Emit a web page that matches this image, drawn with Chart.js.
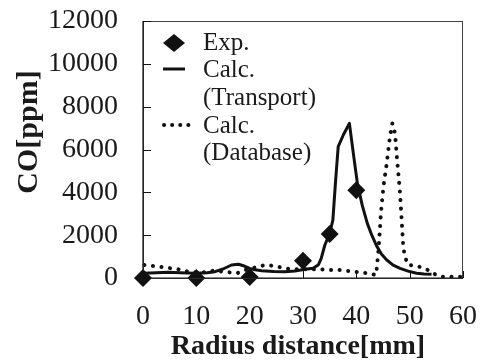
<!DOCTYPE html>
<html><head><meta charset="utf-8">
<script src="https://cdn.jsdelivr.net/npm/chart.js@4/dist/chart.umd.min.js"></script>
<style>html,body{margin:0;padding:0;background:#fff}#wrap{width:483px;height:363px}</style>
</head><body><div id="wrap"><canvas id="c" width="483" height="363"></canvas></div>
<script>
const expX = [0, 10, 20, 30, 35, 40];
const expY = [0, 0, 50, 800, 2050, 4100];
const transX = [0, 2.5, 4.75, 7, 9.75, 12, 13.5, 15, 16.6, 17.9, 19, 20, 21, 22.25, 24.5, 26.6, 28.5, 30.4, 31.9, 32.9, 33.4, 34.1, 35, 35.6, 36.1, 36.6, 37.6, 38.7, 39.5, 40.2, 41.1, 42.06, 42.9, 43.8, 44.7, 45.7, 46.9, 48.2, 49.7, 51.3, 52.7, 54.1];
const transY = [220, 250, 265, 250, 220, 250, 295, 420, 607, 640, 560, 450, 380, 340, 300, 295, 330, 405, 450, 620, 900, 1540, 2080, 2700, 4500, 6130, 6700, 7220, 5700, 4420, 3400, 2550, 2000, 1500, 1120, 840, 600, 450, 320, 220, 190, 170];
const dbX = [0.25, 2, 4, 6.6, 8.5, 11, 13.2, 15.2, 17.6, 19.1, 22.9, 24.75, 26.6, 28.5, 31.3, 33.2, 35.06, 36.9, 38.5, 40.4, 42, 43.7, 43.9, 44.2, 44.6, 45.1, 45.7, 46.3, 46.75, 47.25, 47.6, 48.2, 48.8, 49.1, 49.7, 51.3, 52.9, 54.4, 55.7, 58.4, 59.5];
const dbY = [607, 560, 500, 405, 295, 250, 340, 295, 220, 374, 607, 560, 450, 405, 405, 405, 374, 374, 327, 265, 220, 140, 607, 1450, 3000, 4300, 5350, 6600, 7220, 6770, 5660, 3950, 1460, 1000, 607, 560, 450, 220, 60, 60, 60];
const xTicks = [0, 10, 20, 30, 40, 50, 60];
const yTicks = [0, 2000, 4000, 6000, 8000, 10000, 12000];
const xTitle = 'Radius distance[mm]';
const yTitle = 'CO[ppm]';
const legendItems = [['Exp.'], ['Calc.', '(Transport)'], ['Calc.', '(Database)']];

const pts = (xs, ys) => xs.map((x, i) => ({x, y: ys[i]}));
const serif = '"Liberation Serif", "Times New Roman", serif';

const deco = {
  id: 'deco',
  afterDraw(chart) {
    const {ctx, chartArea: a, scales: {x, y}} = chart;
    ctx.save();
    ctx.strokeStyle = '#444';
    ctx.lineWidth = 1;
    ctx.strokeRect(a.left + 0.5, a.top + 0.5, a.right - a.left - 1, a.bottom - a.top);
    ctx.strokeStyle = '#111';
    ctx.lineWidth = 1.2;
    ctx.beginPath();
    ctx.moveTo(a.left, a.top); ctx.lineTo(a.left, a.bottom); ctx.lineTo(a.right, a.bottom);
    ctx.stroke();
    ctx.lineWidth = 1;
    yTicks.forEach(v => { const py = Math.round(y.getPixelForValue(v)) + 0.5; ctx.beginPath(); ctx.moveTo(a.left, py); ctx.lineTo(a.left + 8, py); ctx.stroke(); });
    xTicks.forEach(v => { const px = Math.round(x.getPixelForValue(v)) + 0.5; ctx.beginPath(); ctx.moveTo(px, a.bottom); ctx.lineTo(px, a.bottom - 7); ctx.stroke(); });
    // titles
    ctx.fillStyle = '#1a1a1a';
    ctx.font = 'bold 28px ' + serif;
    ctx.textAlign = 'center'; ctx.textBaseline = 'middle';
    ctx.fillText(xTitle, 298, 347);
    ctx.font = 'bold 30px ' + serif;
    ctx.translate(29, 132); ctx.rotate(-Math.PI / 2);
    ctx.fillText(yTitle, 0, 0);
    ctx.setTransform(1, 0, 0, 1, 0, 0);
    // legend
    ctx.font = '25px ' + serif;
    ctx.textAlign = 'left';
    const tx = 203;
    ctx.fillStyle = '#111';
    ctx.beginPath(); ctx.moveTo(174, 34); ctx.lineTo(185, 43); ctx.lineTo(174, 52); ctx.lineTo(163, 43); ctx.closePath(); ctx.fill();
    ctx.fillStyle = '#1a1a1a';
    ctx.fillText(legendItems[0][0], tx, 43);
    ctx.strokeStyle = '#111'; ctx.lineWidth = 3;
    ctx.beginPath(); ctx.moveTo(163, 69); ctx.lineTo(185, 69); ctx.stroke();
    ctx.fillText(legendItems[1][0], tx, 70);
    ctx.fillText(legendItems[1][1], tx, 98);
    ctx.lineCap = 'round'; ctx.lineWidth = 4; ctx.setLineDash([0.1, 8]);
    ctx.beginPath(); ctx.moveTo(164, 125); ctx.lineTo(190, 125); ctx.stroke();
    ctx.setLineDash([]);
    ctx.fillText(legendItems[2][0], tx, 126);
    ctx.fillText(legendItems[2][1], tx, 153);
    ctx.restore();
  }
};

new Chart(document.getElementById('c'), {
  type: 'scatter',
  data: {
    datasets: [
      {label: 'Calc. (Database)', data: pts(dbX, dbY), showLine: true, borderColor: '#111', borderWidth: 4, borderDash: [0.1, 8.5], borderCapStyle: 'round', pointRadius: 0, tension: 0, clip: false},
      {label: 'Calc. (Transport)', data: pts(transX, transY), showLine: true, borderColor: '#111', borderWidth: 3, borderJoinStyle: 'round', pointRadius: 0, tension: 0, clip: false},
      {label: 'Exp.', data: pts(expX, expY), showLine: false, pointStyle: 'rectRot', pointRadius: 9, backgroundColor: '#111', borderColor: '#111', borderWidth: 0, clip: false}
    ]
  },
  options: {
    responsive: false, animation: false, devicePixelRatio: 1,
    layout: {autoPadding: false, padding: {top: 21, right: 20, left: 0, bottom: 0}},
    plugins: {legend: {display: false}, tooltip: {enabled: false}},
    scales: {
      x: {type: 'linear', min: 0, max: 60,
        afterFit: s => { s.height = 85; s.paddingLeft = 0; s.paddingRight = 0; },
        afterBuildTicks: s => { s.ticks = xTicks.map(v => ({value: v})); },
        grid: {display: false}, border: {display: false},
        ticks: {color: '#1a1a1a', font: {family: serif, size: 28}, padding: 14, maxRotation: 0, callback: v => String(v)}},
      y: {type: 'linear', min: 0, max: 12000,
        afterFit: s => { s.width = 143; s.paddingTop = 0; s.paddingBottom = 0; },
        afterBuildTicks: s => { s.ticks = yTicks.map(v => ({value: v})); },
        grid: {display: false}, border: {display: false},
        ticks: {color: '#1a1a1a', font: {family: serif, size: 28}, padding: 17, callback: v => String(v)}}
    }
  },
  plugins: [deco]
});
</script></body></html>
